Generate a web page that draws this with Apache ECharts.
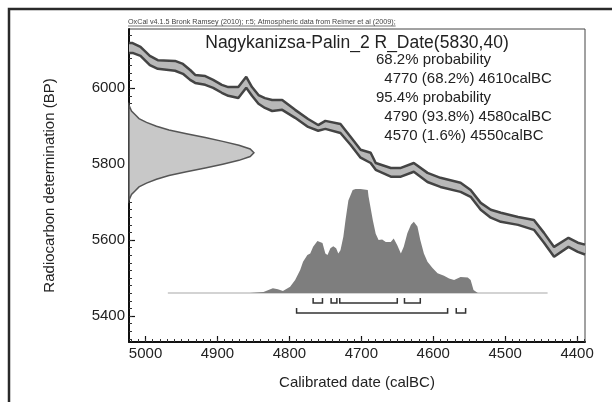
<!DOCTYPE html>
<html>
<head>
<meta charset="utf-8">
<script src="https://cdn.jsdelivr.net/npm/echarts@6/dist/echarts.min.js"></script>
<style>
  html, body { margin: 0; padding: 0; background: #fff; }
  #chart { width: 612px; height: 402px; }
</style>
</head>
<body>
<div id="chart"></div>
<script>
// calibration curve (IntCal09): calBC vs BP band edges
var calYears   = [5023, 5018, 5007, 4994, 4983, 4959, 4948, 4938, 4931, 4917, 4906, 4894, 4885, 4871, 4860, 4852, 4843, 4834, 4824, 4810, 4792, 4774, 4760, 4750, 4729, 4715, 4701, 4687, 4680, 4659, 4645, 4627, 4608, 4590, 4562, 4548, 4534, 4520, 4506, 4482, 4460, 4446, 4432, 4412, 4399, 4389];
var curveUpper = [6119, 6119, 6109, 6085, 6074, 6072, 6064, 6048, 6035, 6032, 6022, 6009, 6003, 6003, 6030, 6003, 5982, 5974, 5969, 5969, 5943, 5919, 5903, 5914, 5906, 5872, 5838, 5830, 5803, 5790, 5790, 5803, 5777, 5764, 5751, 5732, 5698, 5680, 5672, 5661, 5653, 5619, 5582, 5606, 5593, 5588];
var curveLower = [6093, 6093, 6085, 6061, 6051, 6046, 6038, 6022, 6014, 6009, 6001, 5988, 5980, 5974, 6001, 5980, 5959, 5948, 5940, 5943, 5922, 5898, 5888, 5893, 5882, 5851, 5817, 5803, 5785, 5767, 5767, 5780, 5753, 5740, 5727, 5714, 5680, 5659, 5648, 5640, 5627, 5593, 5556, 5582, 5569, 5562];

// radiocarbon date R_Date(5830,40), relative probability
var dateBP   = [5955, 5940, 5930, 5920, 5910, 5900, 5890, 5880, 5870, 5860, 5850, 5840, 5830, 5820, 5810, 5800, 5790, 5780, 5770, 5760, 5750, 5740, 5730, 5720, 5705];
var dateProb = [0, 0.02, 0.05, 0.08, 0.14, 0.22, 0.32, 0.46, 0.61, 0.75, 0.88, 0.97, 1.0, 0.97, 0.88, 0.75, 0.61, 0.46, 0.32, 0.22, 0.14, 0.08, 0.05, 0.02, 0];

// calibrated distribution, relative probability
var distYears = [4855, 4836, 4823, 4816, 4809, 4799, 4792, 4785, 4781, 4775, 4771, 4767, 4761, 4760, 4754, 4750, 4747, 4743, 4739, 4735, 4732, 4729, 4725, 4722, 4718, 4712, 4708, 4701, 4691, 4690, 4684, 4680, 4676, 4671, 4666, 4659, 4655, 4650, 4645, 4641, 4636, 4631, 4627, 4622, 4618, 4613, 4608, 4601, 4594, 4585, 4578, 4571, 4562, 4552, 4548, 4544, 4538];
var distProb  = [0, 0.01, 0.045, 0.035, 0.02, 0.06, 0.125, 0.22, 0.30, 0.365, 0.38, 0.445, 0.50, 0.515, 0.48, 0.38, 0.365, 0.43, 0.45, 0.43, 0.38, 0.41, 0.54, 0.70, 0.89, 0.99, 1.0, 1.0, 0.99, 0.93, 0.70, 0.57, 0.51, 0.515, 0.49, 0.49, 0.525, 0.46, 0.38, 0.445, 0.575, 0.655, 0.685, 0.64, 0.51, 0.38, 0.30, 0.24, 0.19, 0.165, 0.14, 0.125, 0.155, 0.15, 0.125, 0.03, 0];
var baseRange = [4969, 4441];

// highest posterior density ranges
var range68 = [[4767, 4754], [4742, 4734], [4730, 4650], [4640, 4618]];
var range95 = [[4790, 4580], [4568, 4555]];

var xTicks = [5000, 4900, 4800, 4700, 4600, 4500, 4400];
var yTicks = [5400, 5600, 5800, 6000];

var titleText = 'Nagykanizsa-Palin_2 R_Date(5830,40)';
var headerText = 'OxCal v4.1.5 Bronk Ramsey (2010); r:5; Atmospheric data from Reimer et al (2009);';
var infoLines = ['68.2% probability', '  4770 (68.2%) 4610calBC', '95.4% probability', '  4790 (93.8%) 4580calBC', '  4570 (1.6%) 4550calBC'];

var FONT = 'Liberation Sans';
var xMinor = [], yMinor = [];
for (var v = 4390; v <= 5020; v += 10) xMinor.push(v);
for (var w = 5340; w <= 6140; w += 20) yMinor.push(w);

var chart = echarts.init(document.getElementById('chart'), null, { renderer: 'canvas' });

// band between the two curve edges, drawn as one polygon
function bandItem(params, api) {
  if (params.dataIndex !== 0) return null;
  var pts = [];
  for (var i = 0; i < calYears.length; i++) pts.push(api.coord([calYears[i], curveUpper[i]]));
  for (var j = calYears.length - 1; j >= 0; j--) pts.push(api.coord([calYears[j], curveLower[j]]));
  return { type: 'polygon', shape: { points: pts }, style: { fill: '#b8b8b8' } };
}

// the measured date, lying along the BP axis
function dateItem(params, api) {
  if (params.dataIndex !== 0) return null;
  var pts = [];
  for (var i = 0; i < dateBP.length; i++) pts.push(api.coord([dateProb[i], dateBP[i]]));
  return { type: 'polygon', shape: { points: pts }, style: { fill: '#c8c8c8', stroke: '#555', lineWidth: 1.5 } };
}

// range brackets below the baseline
function rangeItem(params, api) {
  var a = api.coord([api.value(0), 0]);
  var b = api.coord([api.value(1), 0]);
  var y = a[1] + api.value(2) * 10;
  return {
    type: 'polyline',
    shape: { points: [[a[0], y - 5], [a[0], y], [b[0], y], [b[0], y - 5]] },
    style: { stroke: '#333', lineWidth: 1.5, fill: null }
  };
}

var rangeData = range68.map(function (r) { return [r[0], r[1], 1]; })
  .concat(range95.map(function (r) { return [r[0], r[1], 2]; }));

var measure = document.createElement('canvas').getContext('2d');
measure.font = '7.2px "' + FONT + '"';
var headerW = measure.measureText(headerText).width;

var graphics = [
  { type: 'polyline', shape: { points: [[9, 402], [9, 9], [612, 9]] }, style: { stroke: '#2a2a2a', lineWidth: 2.5, fill: null } },
  { type: 'text', x: 128, y: 22, style: { text: headerText, fontSize: 7.2, fontFamily: FONT, fill: '#444', verticalAlign: 'middle' } },
  { type: 'line', shape: { x1: 128, y1: 26, x2: 128 + headerW, y2: 26 }, style: { stroke: '#555', lineWidth: 0.8 } },
  { type: 'text', x: 357, y: 43, style: { text: titleText, fontSize: 17.5, fontFamily: FONT, fill: '#222', align: 'center', verticalAlign: 'middle' } }
];
infoLines.forEach(function (t, i) {
  graphics.push({ type: 'text', x: 376, y: 60 + i * 19, style: { text: t, fontSize: 15, fontFamily: FONT, fill: '#222', verticalAlign: 'middle' } });
});

function plain(val) { return String(val); }

var option = {
  animation: false,
  backgroundColor: '#fff',
  textStyle: { fontFamily: FONT },
  grid: { left: 129, right: 27, top: 29, bottom: 60, show: true, borderColor: '#444', borderWidth: 1 },
  xAxis: [
    {
      type: 'value', inverse: true, min: 4389, max: 5023, position: 'bottom',
      name: 'Calibrated date (calBC)', nameLocation: 'middle', nameGap: 33,
      nameTextStyle: { fontSize: 15, color: '#222' },
      axisLine: { onZero: false, lineStyle: { color: '#111', width: 2 } },
      axisTick: { inside: true, length: 6, customValues: xTicks, lineStyle: { color: '#111', width: 1.2 } },
      axisLabel: { customValues: xTicks, formatter: plain, fontSize: 15, color: '#222', margin: 4 },
      splitLine: { show: false }
    },
    { type: 'value', min: 0, max: 3.65, show: false, position: 'top' },
    {
      type: 'value', inverse: true, min: 4389, max: 5023, position: 'bottom',
      axisLine: { show: false, onZero: false },
      axisTick: { inside: true, length: 3, customValues: xMinor, lineStyle: { color: '#333', width: 1 } },
      axisLabel: { show: false },
      splitLine: { show: false }
    }
  ],
  yAxis: [
    {
      type: 'value', min: 5331.5, max: 6156, position: 'left',
      name: 'Radiocarbon determination (BP)', nameLocation: 'middle', nameGap: 72,
      nameTextStyle: { fontSize: 15, color: '#222' },
      axisLine: { show: true, onZero: false, lineStyle: { color: '#111', width: 2 } },
      axisTick: { show: true, inside: true, length: 6, customValues: yTicks, lineStyle: { color: '#111', width: 1.2 } },
      axisLabel: { customValues: yTicks, formatter: plain, fontSize: 15, color: '#222', margin: 4 },
      splitLine: { show: false }
    },
    { type: 'value', min: -0.471, max: 2.538, show: false, position: 'right' },
    {
      type: 'value', min: 5331.5, max: 6156, position: 'left',
      axisLine: { show: false, onZero: false },
      axisTick: { show: true, inside: true, length: 3, customValues: yMinor, lineStyle: { color: '#333', width: 1 } },
      axisLabel: { show: false },
      splitLine: { show: false }
    }
  ],
  graphic: graphics,
  series: [
    {
      type: 'custom', xAxisIndex: 0, yAxisIndex: 0, renderItem: bandItem, silent: true, z: 2,
      data: calYears.map(function (x, i) { return [x, curveUpper[i], curveLower[i]]; })
    },
    {
      type: 'line', xAxisIndex: 0, yAxisIndex: 0, symbol: 'none', silent: true, z: 3,
      lineStyle: { color: '#444', width: 2.5 },
      data: calYears.map(function (x, i) { return [x, curveUpper[i]]; })
    },
    {
      type: 'line', xAxisIndex: 0, yAxisIndex: 0, symbol: 'none', silent: true, z: 3,
      lineStyle: { color: '#444', width: 2.5 },
      data: calYears.map(function (x, i) { return [x, curveLower[i]]; })
    },
    {
      type: 'custom', xAxisIndex: 1, yAxisIndex: 0, renderItem: dateItem, silent: true, z: 2,
      data: dateBP.map(function (b, i) { return [dateProb[i], b]; })
    },
    {
      type: 'line', xAxisIndex: 0, yAxisIndex: 1, symbol: 'none', silent: true, z: 2,
      lineStyle: { color: '#c4c4c4', width: 1.5 },
      data: [[baseRange[0], 0], [baseRange[1], 0]]
    },
    {
      type: 'line', xAxisIndex: 0, yAxisIndex: 1, symbol: 'none', silent: true, z: 3,
      lineStyle: { width: 0 },
      areaStyle: { color: '#7e7e7e', opacity: 1 },
      data: distYears.map(function (x, i) { return [x, distProb[i]]; })
    },
    {
      type: 'custom', xAxisIndex: 0, yAxisIndex: 1, renderItem: rangeItem, silent: true, z: 3,
      encode: { x: [0, 1], y: 2 },
      data: rangeData
    }
  ]
};

chart.setOption(option);
</script>
</body>
</html>
